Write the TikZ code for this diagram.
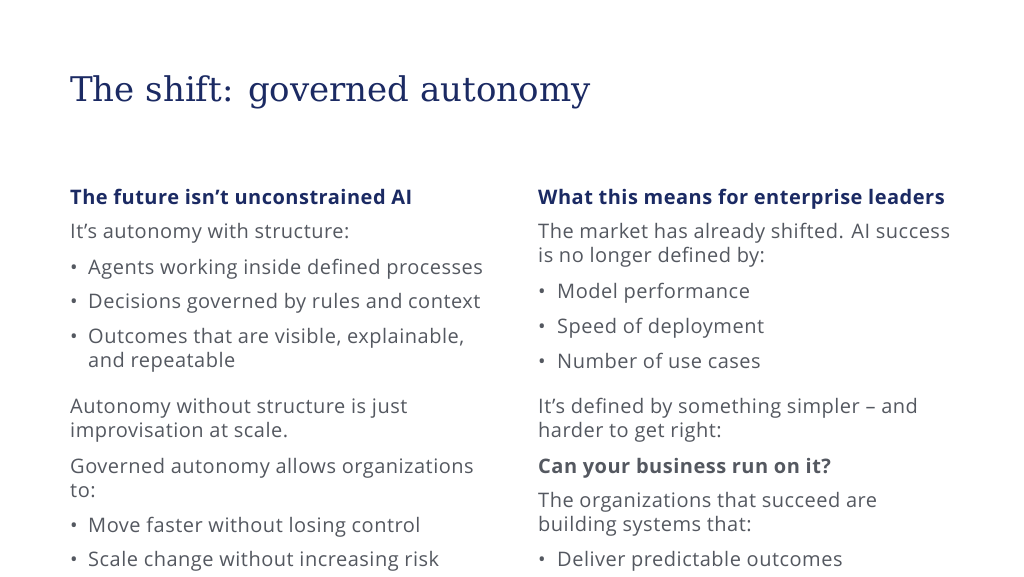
\documentclass[tikz,border=0pt]{standalone}
\usepackage{fontspec}
\setmainfont{Open Sans}[LetterSpace=2.5]
\newfontfamily\titlefont{DejaVu Serif}
\definecolor{navy}{HTML}{1B2A63}
\definecolor{body}{HTML}{545860}
\begin{document}
\begin{tikzpicture}[x=1pt,y=-1pt,
  txt/.style={anchor=base west,inner sep=0,text=body,font=\fontsize{20}{24}\selectfont},
  hd/.style={anchor=base west,inner sep=0,text=navy,font=\fontsize{20}{24}\selectfont\bfseries},
  bl/.style={anchor=base west,inner sep=0,text=body,font=\fontsize{20}{24}\selectfont}]
\useasboundingbox[fill=white] (0,0) rectangle (1024,576);
\node[anchor=base west,inner sep=0,text=navy,font=\fontsize{34}{40}\selectfont\titlefont] (title) at (70,101) {The shift: governed autonomy};
% left column
\node[hd] (lh) at (70,204) {The future isn’t unconstrained AI};
\node[txt] (l1) at (70,238) {It’s autonomy with structure:};
\node[bl] (lb1) at (70,274) {•};
\node[txt] (l2) at (88,274) {Agents working inside defined processes};
\node[bl] (lb2) at (70,308) {•};
\node[txt] (l3) at (88,308) {Decisions governed by rules and context};
\node[bl] (lb3) at (70,343) {•};
\node[txt] (l4) at (88,343) {Outcomes that are visible, explainable,};
\node[txt] (l5) at (88,367) {and repeatable};
\node[txt] (l6) at (70,413) {Autonomy without structure is just};
\node[txt] (l7) at (70,437) {improvisation at scale.};
\node[txt] (l8) at (70,473) {Governed autonomy allows organizations};
\node[txt] (l9) at (70,497) {to:};
\node[bl] (lb4) at (70,532) {•};
\node[txt] (l10) at (88,532) {Move faster without losing control};
\node[bl] (lb5) at (70,566) {•};
\node[txt] (l11) at (88,566) {Scale change without increasing risk};
% right column
\node[hd] (rh) at (538,204) {What this means for enterprise leaders};
\node[txt] (r1) at (538,238) {The market has already shifted. AI success};
\node[txt] (r2) at (538,262) {is no longer defined by:};
\node[bl] (rb1) at (538,298) {•};
\node[txt] (r3) at (557,298) {Model performance};
\node[bl] (rb2) at (538,333) {•};
\node[txt] (r4) at (557,333) {Speed of deployment};
\node[bl] (rb3) at (538,368) {•};
\node[txt] (r5) at (557,368) {Number of use cases};
\node[txt] (r6) at (538,413) {It’s defined by something simpler – and};
\node[txt] (r7) at (538,437) {harder to get right:};
\node[txt,font=\fontsize{20}{24}\selectfont\bfseries] (r8) at (538,473) {Can your business run on it?};
\node[txt] (r9) at (538,507) {The organizations that succeed are};
\node[txt] (r10) at (538,531) {building systems that:};
\node[bl] (rb4) at (538,566) {•};
\node[txt] (r11) at (557,566) {Deliver predictable outcomes};
\end{tikzpicture}
\end{document}
